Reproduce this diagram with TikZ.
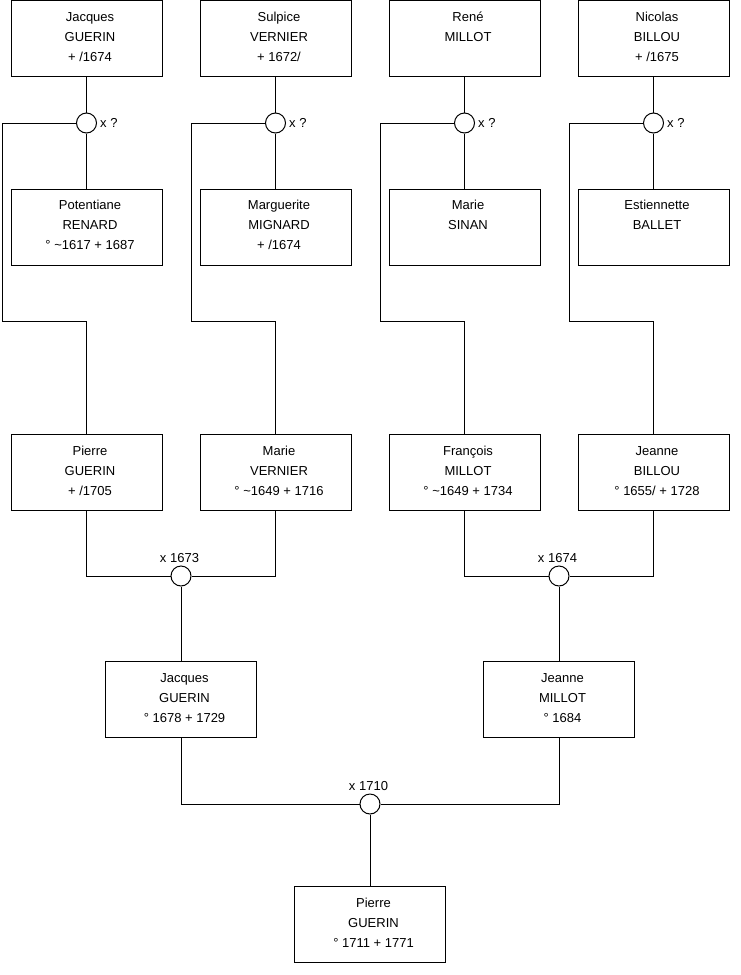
\documentclass[tikz,border=0pt]{standalone}
\usepackage{fontspec}
\setmainfont{Liberation Sans}
\tikzset{
  pbox/.style={draw, line width=1pt, minimum width=151pt, minimum height=76pt, inner sep=0pt},
  ptext/.style={font=\fontsize{13}{20}\selectfont, align=center, inner sep=0pt},
  wed/.style={draw, circle, line width=1pt, minimum size=20pt, inner sep=0pt, fill=white},
  wlab/.style={font=\fontsize{13}{16}\selectfont, inner sep=0pt},
  link/.style={line width=1pt}
}
\newcommand\person[4]{%
  \node[pbox] (#1) at (#2) {};
  \node[ptext] (#1t) at ([xshift=3.5pt,yshift=1.35pt]#1.center) {\strut #3\\\strut #4};}
\begin{document}
\begin{tikzpicture}[x=1pt,y=-1pt]
\useasboundingbox (0,0) rectangle (740,975);
% row 1
\person{A1}{86.5,38.5}{Jacques\\\strut GUERIN}{+ /1674}
\person{A2}{275.5,38.5}{Sulpice\\\strut VERNIER}{+ 1672/}
\person{A3}{464.5,38.5}{René\\\strut MILLOT}{}
\person{A4}{653.5,38.5}{Nicolas\\\strut BILLOU}{+ /1675}
% row 2
\person{B1}{86.5,227}{Potentiane\\\strut RENARD}{° \textasciitilde1617 + 1687}
\person{B2}{275.5,227}{Marguerite\\\strut MIGNARD}{+ /1674}
\person{B3}{464.5,227}{Marie\\\strut SINAN}{}
\person{B4}{653.5,227}{Estiennette\\\strut BALLET}{}
% row 3
\person{P1}{86.5,472.5}{Pierre\\\strut GUERIN}{+ /1705}
\person{P2}{275.5,472.5}{Marie\\\strut VERNIER}{° \textasciitilde1649 + 1716}
\person{P3}{464.5,472.5}{François\\\strut MILLOT}{° \textasciitilde1649 + 1734}
\person{P4}{653.5,472.5}{Jeanne\\\strut BILLOU}{° 1655/ + 1728}
% row 4
\person{J1}{181,699.5}{Jacques\\\strut GUERIN}{° 1678 + 1729}
\person{J2}{559,699.5}{Jeanne\\\strut MILLOT}{° 1684}
% row 5
\person{F}{370,924.5}{Pierre\\\strut GUERIN}{° 1711 + 1771}
% marriage circles
\node[wed] (c1) at (86.5,123) {};
\node[wed] (c2) at (275.5,123) {};
\node[wed] (c3) at (464.5,123) {};
\node[wed] (c4) at (653.5,123) {};
\node[wed] (m1) at (181,576) {};
\node[wed] (m2) at (559,576) {};
\node[wed] (m3) at (370,804) {};
% labels
\node[wlab, anchor=west] (lc1) at ([xshift=3pt]c1.east) {x ?};
\node[wlab, anchor=west] (lc2) at ([xshift=3pt]c2.east) {x ?};
\node[wlab, anchor=west] (lc3) at ([xshift=3pt]c3.east) {x ?};
\node[wlab, anchor=west] (lc4) at ([xshift=3pt]c4.east) {x ?};
\node[wlab] (lm1) at ([xshift=-1.5pt,yshift=17.5pt]m1.center) {x 1673};
\node[wlab] (lm2) at ([xshift=-1.5pt,yshift=17.5pt]m2.center) {x 1674};
\node[wlab] (lm3) at ([xshift=-1.5pt,yshift=17.5pt]m3.center) {x 1710};
% bend points
\coordinate (k1) at (2,321);
\coordinate (k2) at (191,321);
\coordinate (k3) at (380,321);
\coordinate (k4) at (569,321);
% connectors row 1-2
\foreach \i in {1,2,3,4}{
  \draw[link] (A\i.south) -- (c\i.north);
  \draw[link] (c\i.south) -- (B\i.north);
  \draw[link] (c\i.west) -| (k\i) -| (P\i.north);
}
% connectors row 3-4
\draw[link] (P1.south) |- (m1.west);
\draw[link] (P2.south) |- (m1.east);
\draw[link] (P3.south) |- (m2.west);
\draw[link] (P4.south) |- (m2.east);
\draw[link] (m1.south) -- (J1.north);
\draw[link] (m2.south) -- (J2.north);
% connectors row 4-5
\draw[link] (J1.south) |- (m3.west);
\draw[link] (J2.south) |- (m3.east);
\draw[link] (m3.south) -- (F.north);
\end{tikzpicture}
\end{document}
